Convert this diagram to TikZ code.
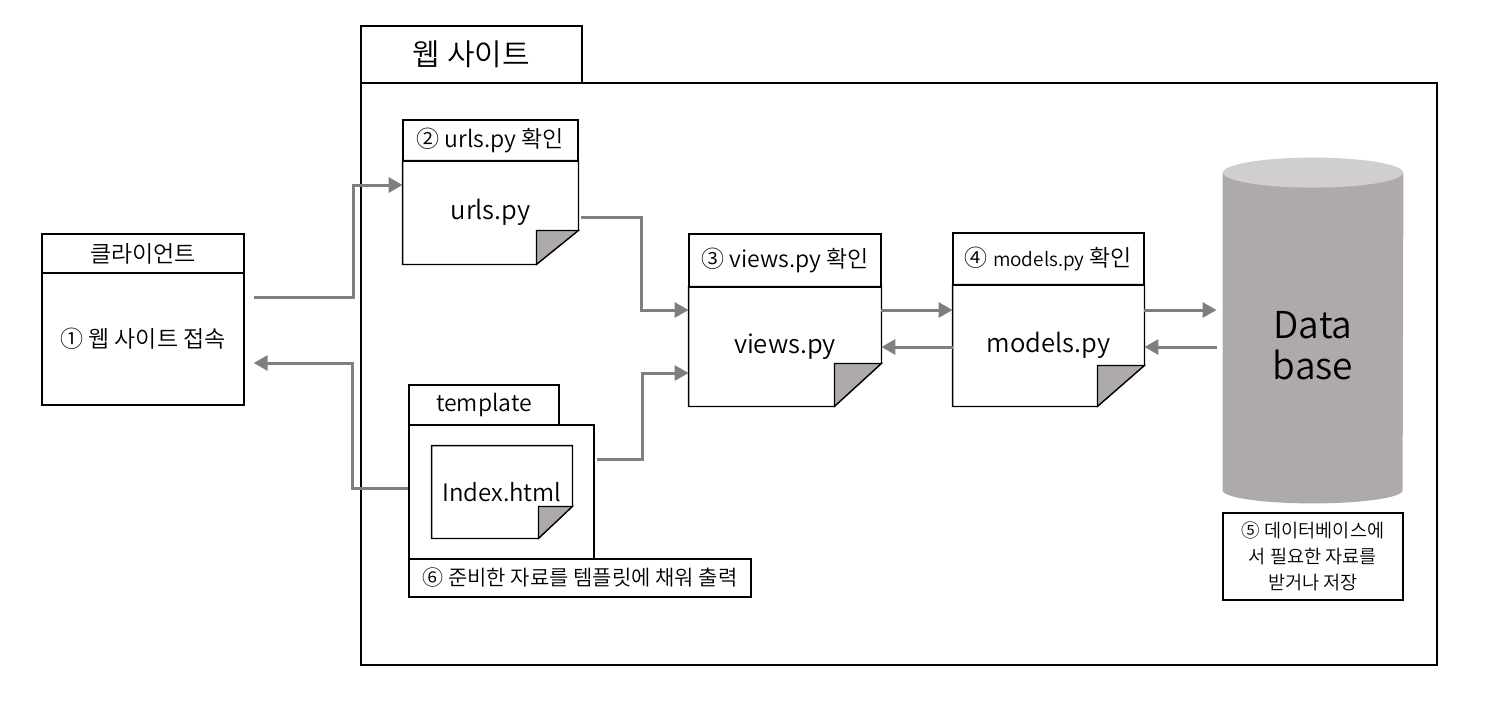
\documentclass[tikz,border=0pt]{standalone}
\usepackage{fontspec}
\setmainfont{Noto Sans CJK KR}[UprightFont=* DemiLight]
\usetikzlibrary{arrows.meta,calc}
\definecolor{flowgray}{HTML}{7F7F7F}
\definecolor{dbside}{HTML}{AEAAAA}
\definecolor{dbtop}{HTML}{D0CECE}

\begin{document}
\begin{tikzpicture}[
    x=0.5pt, y=-0.5pt,
    font=\fontsize{11.5}{13.8}\selectfont,
    box/.style={draw, line width=0.65pt, fill=white, inner sep=0pt},
    page/.style={inner sep=0pt, font=\fontsize{12.8}{15}\selectfont},
    fold/.style={draw, line width=0.65pt, fill=dbside},
    flow/.style={draw=flowgray, line width=1.5pt, -{Triangle[length=7pt, width=7.5pt]}},
    note/.style={box, align=center, font=\fontsize{9.3}{13}\selectfont}
  ]
  \useasboundingbox (0,0) rectangle (1512,720);

  % Web site frame
  \node[box, minimum width=538pt, minimum height=291pt] (site) at (899,374) {};
  \node[box, minimum width=110.5pt, minimum height=28.5pt, font=\fontsize{15}{18}\selectfont] (sitetab) at (471.5,54.5) {웹 사이트};

  % Client
  \node[box, minimum width=101pt, minimum height=19.5pt] (chead) at (143,253.5) {클라이언트};
  \node[box, minimum width=101pt, minimum height=66pt] (cbody) at (143,339) {① 웹 사이트 접속};

  % urls.py
  \node[box, minimum width=87.5pt, minimum height=20.5pt] (uhead) at (490.5,140.5) {② urls.py 확인};
  \node[page, minimum width=87.5pt, minimum height=51.5pt] (ubody) at (490.5,212.5) {urls.py};

  % views.py
  \node[box, minimum width=96pt, minimum height=26.5pt] (vhead) at (785,260.5) {③ views.py 확인};
  \node[page, minimum width=96pt, minimum height=59.5pt] (vbody) at (785,346.5) {views.py};

  % models.py
  \node[box, minimum width=95.5pt, minimum height=26pt] (mhead) at (1048.5,259) {④ {\fontsize{9.5}{11}\selectfont models.py} 확인};
  \node[page, minimum width=95.5pt, minimum height=60.5pt] (mbody) at (1048.5,345.5) {models.py};

  % template folder
  \node[box, minimum width=75pt, minimum height=20pt] (ttab) at (484,405) {template};
  \node[box, minimum width=92.5pt, minimum height=67pt] (tmain) at (501.5,492) {};
  \node[page, minimum width=70pt, minimum height=46pt, font=\fontsize{12}{14}\selectfont] (index) at (502,492) {Index.html};
  \node[box, minimum width=171pt, minimum height=19pt, font=\fontsize{10.5}{12}\selectfont] (tnote) at (580,578) {⑥ 준비한 자료를 템플릿에 채워 출력};

  % Pages with folded corner
  \foreach \n/\fx/\fy in {ubody/42/34, vbody/47/43, mbody/47/41, index/34/32} {
    \draw[line width=0.65pt] (\n.north west) -- (\n.north east) -- ($(\n.south east)+(0,-\fy)$)
      -- ($(\n.south east)+(-\fx,0)$) -- (\n.south west) -- cycle;
    \draw[fold] ($(\n.south east)+(-\fx,0)$) -- ($(\n.south east)+(-\fx,-\fy)$) -- ($(\n.south east)+(0,-\fy)$) -- cycle;
  }

  % Database
  \node[minimum width=90pt, minimum height=158.5pt, inner sep=0pt] (db) at (1313,331.5) {};
  \fill[dbside] (db.north west) -- (db.south west)
    arc[start angle=180, end angle=360, x radius=45pt, y radius=6.5pt] -- (db.north east) -- cycle;
  \fill[dbtop] (db.north) ellipse[x radius=45pt, y radius=7.5pt];
  \node[font=\fontsize{18.5}{20.5}\selectfont, align=center] (dbname) at (1313,346) {Data\\base};
  \node[note, minimum width=90pt, minimum height=43.5pt] (dbnote) at (1313,556.5) {⑤ 데이터베이스에\\서 필요한 자료를\\받거나 저장};

  % Request and response flow
  \draw[flow, shorten <=4.5pt] (cbody.east |- 0,297) -- (353,297) |- (ubody.west |- 0,185);
  \draw[flow, shorten <=1.5pt] (ubody.east |- 0,217) -- (641,217) |- (vbody.west |- 0,310);
  \draw[flow, shorten <=1pt] (tmain.east |- 0,459) -- (642,459) |- (vbody.west |- 0,373);
  \draw[flow, shorten >=4.5pt] (tmain.west |- 0,488) -- (352,488) |- (cbody.east |- 0,363);
  \draw[flow] (vbody.east |- 0,310) -- (mbody.west |- 0,310);
  \draw[flow] (mbody.west |- 0,347) -- (vbody.east |- 0,347);
  \draw[flow, shorten >=3pt] (mbody.east |- 0,310) -- (db.west |- 0,310);
  \draw[flow, shorten <=3pt] (db.west |- 0,347) -- (mbody.east |- 0,347);

\end{tikzpicture}
\end{document}
